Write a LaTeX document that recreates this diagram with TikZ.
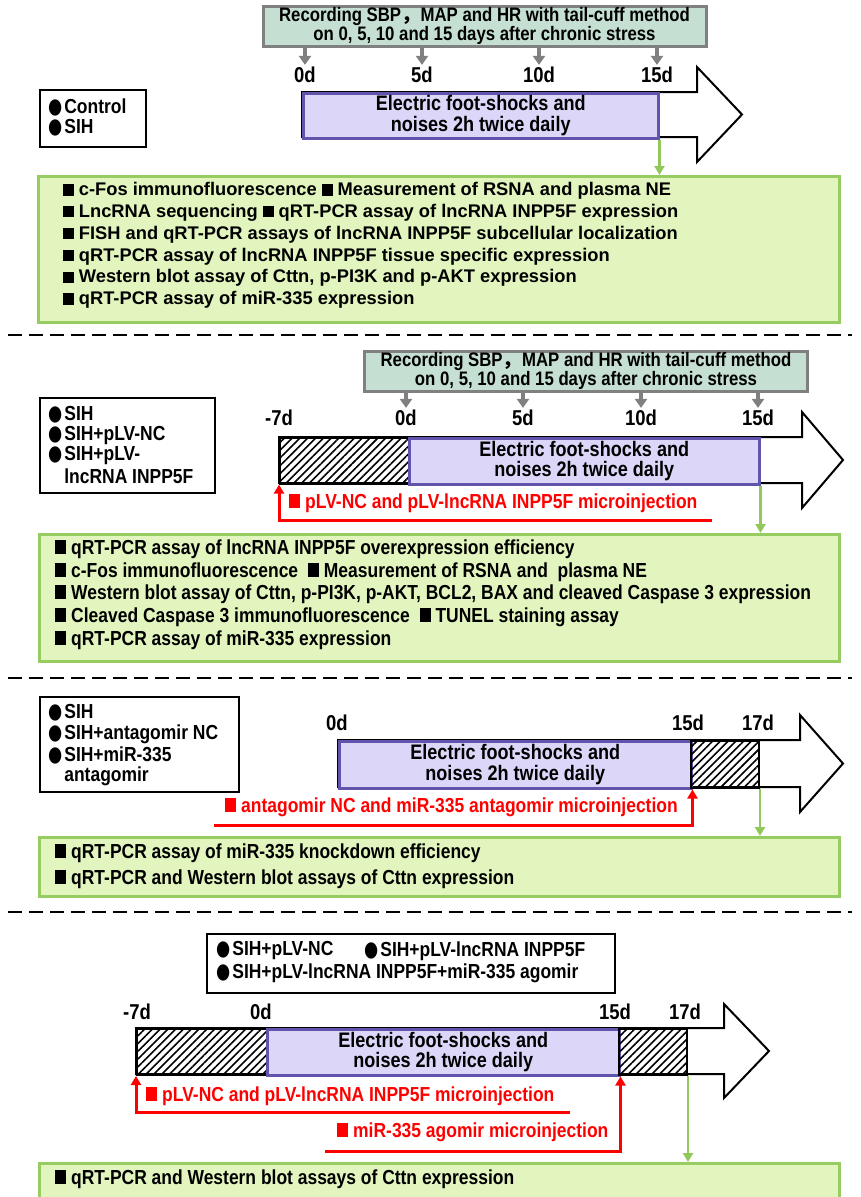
\documentclass[tikz,border=0pt]{standalone}
\usepackage{fontspec}
\setmainfont{Liberation Sans}
\newfontfamily\nf{Liberation Sans}[FakeStretch=0.86]
\newfontfamily\sym{DejaVu Sans}
\newfontfamily\cjk{Noto Sans CJK SC}
\usetikzlibrary{arrows.meta,patterns.meta}
\definecolor{tbfill}{RGB}{197,224,210}
\definecolor{tbedge}{RGB}{128,128,128}
\definecolor{purpfill}{RGB}{220,214,248}
\definecolor{purpedge}{RGB}{96,84,172}
\definecolor{gfill}{RGB}{226,245,190}
\definecolor{gedge}{RGB}{150,204,96}
\definecolor{garrow}{RGB}{146,200,90}
\definecolor{redc}{RGB}{255,0,0}
\newcommand\sqA{\rule{0.58em}{0.62em}}
\newcommand\sqB{\rule{0.55em}{0.7em}}
\newcommand\dotB{\scalebox{0.8}[1.05]{\sym ●}\hspace{2pt}}
\tikzset{
  topbox/.style={draw=tbedge, fill=tbfill, line width=3pt, minimum width=443pt, minimum height=40pt,
    inner sep=0pt, align=center, font=\nf\bfseries\fontsize{19.5}{18}\selectfont},
  tick/.style={inner sep=0pt, font=\nf\bfseries\fontsize{21.5}{20}\selectfont},
  grayarrow/.style={draw=tbedge, line width=3.2pt, shorten >=2pt, -{Triangle[width=12pt,length=9pt]}},
  bigarrow/.style={draw=black, fill=white, line width=2pt, line join=miter},
  purplebox/.style={draw=purpedge, fill=purpfill, line width=2.5pt, inner sep=0pt, anchor=north west,
    align=center, font=\nf\bfseries\fontsize{21}{20.5}\selectfont},
  hatchbox/.style={draw=black, line width=2pt, inner sep=0pt, anchor=north west,
    pattern={Lines[angle=45,distance=5.5pt,line width=1.6pt]}},
  greenbox/.style={draw=gedge, fill=gfill, line width=3pt, inner sep=0pt, anchor=north west},
  greenarrow/.style={draw=garrow, line width=2.6pt, -{Triangle[width=10pt,length=9pt]}},
  redarrow/.style={draw=redc, line width=3pt, -{Triangle[width=10pt,length=9pt]}},
  legendbox/.style={draw=black, fill=white, line width=1.8pt, inner sep=0pt, anchor=north west},
  gAtext/.style={inner sep=0pt, anchor=west, font=\bfseries\fontsize{18.3}{20}\selectfont},
  ntext/.style={inner sep=0pt, anchor=west, font=\nf\bfseries\fontsize{20.3}{20}\selectfont},
  redtext/.style={ntext, text=redc},
  sepline/.style={line width=2.5pt, dash pattern=on 14pt off 7pt}
}
\begin{document}
\begin{tikzpicture}[x=1pt,y=-1pt]
\useasboundingbox (0,0) rectangle (860,1197);

% ================= Panel 1 =================
\node[topbox] (tb1) at (484.5,26) {Recording SBP{\cjk ，}MAP and HR with tail-cuff method\\on 0, 5, 10 and 15 days after chronic stress};
\node[tick] (a0) at (305,75) {0d};
\node[tick] (a5) at (422,75) {5d};
\node[tick] (a10) at (539,75) {10d};
\node[tick] (a15) at (657,75) {15d};
\foreach \t in {a0,a5,a10,a15} \draw[grayarrow] (tb1.south -| \t) -- (\t.north);
\node[legendbox, minimum width=106pt, minimum height=57pt] (L1) at (39,89) {};
\node[ntext] (L1a) at (48,107) {\dotB Control};
\node[ntext] (L1b) at (48,128) {\dotB SIH};
\draw[bigarrow] (302,92) -- (697,92) -- (697,67) -- (742,114.5) -- (697,162) -- (697,137) -- (302,137) -- cycle;
\node[purplebox, minimum width=355pt, minimum height=45pt] (p1) at (302,92) {Electric foot-shocks and\\noises 2h twice daily};
\node[greenbox, minimum width=801pt, minimum height=146pt] (g1) at (37,175) {};
\draw[greenarrow] (p1.south east) -- (p1.south east |- g1.north);
\node[gAtext] (g1a) at (63,191) {\sqA\ c-Fos immunofluorescence \sqA\ Measurement of RSNA and plasma NE};
\node[gAtext] (g1b) at (63,212.8) {\sqA\ LncRNA sequencing \sqA\ qRT-PCR assay of lncRNA INPP5F expression};
\node[gAtext] (g1c) at (63,234.6) {\sqA\ FISH and qRT-PCR assays of lncRNA INPP5F subcellular localization};
\node[gAtext] (g1d) at (63,256.4) {\sqA\ qRT-PCR assay of lncRNA INPP5F tissue specific expression};
\node[gAtext] (g1e) at (63,278.2) {\sqA\ Western blot assay of Cttn, p-PI3K and p-AKT expression};
\node[gAtext] (g1f) at (63,300) {\sqA\ qRT-PCR assay of miR-335 expression};

\draw[sepline] (8,335) -- (852,335);

% ================= Panel 2 =================
\node[topbox] (tb2) at (586,371) {Recording SBP{\cjk ，}MAP and HR with tail-cuff method\\on 0, 5, 10 and 15 days after chronic stress};
\node[tick] (b7) at (279,418) {-7d};
\node[tick] (b0) at (406,418) {0d};
\node[tick] (b5) at (523,418) {5d};
\node[tick] (b10) at (641,418) {10d};
\node[tick] (b15) at (758,418) {15d};
\foreach \t in {b0,b5,b10,b15} \draw[grayarrow] (tb2.south -| \t) -- (\t.north);
\node[legendbox, minimum width=175pt, minimum height=95pt] (L2) at (39,397) {};
\node[ntext] (L2a) at (48,415) {\dotB SIH};
\node[ntext] (L2b) at (48,436) {\dotB SIH+pLV-NC};
\node[ntext] (L2c) at (48,456) {\dotB SIH+pLV-};
\node[ntext] (L2d) at (48,477) {\phantom{\dotB}lncRNA INPP5F};
\draw[bigarrow] (279,437) -- (802,437) -- (802,412) -- (843,460) -- (802,508) -- (802,483) -- (279,483) -- cycle;
\node[hatchbox, minimum width=129pt, minimum height=46pt] (h2) at (279,437) {};
\node[purplebox, minimum width=350pt, minimum height=46pt] (p2) at (408,437) {Electric foot-shocks and\\noises 2h twice daily};
\coordinate (r2) at (712,520);
\draw[redarrow] (r2) -| (h2.south west);
\node[redtext] (r2t) at (289,503) {\sqB\ pLV-NC and pLV-lncRNA INPP5F microinjection};
\node[greenbox, minimum width=800pt, minimum height=127pt] (g2) at (38,533) {};
\draw[greenarrow] (p2.south east) -- (p2.south east |- g2.north);
\node[ntext] (g2a) at (55,549) {\sqB\ qRT-PCR assay of lncRNA INPP5F overexpression efficiency};
\node[ntext] (g2b) at (55,572) {\sqB\ c-Fos immunofluorescence \ \sqB\ Measurement of RSNA and \ plasma NE};
\node[ntext] (g2c) at (55,594) {\sqB\ Western blot assay of Cttn, p-PI3K, p-AKT, BCL2, BAX and cleaved Caspase 3 expression};
\node[ntext] (g2d) at (55,617) {\sqB\ Cleaved Caspase 3 immunofluorescence \ \sqB\ TUNEL staining assay};
\node[ntext] (g2e) at (55,640) {\sqB\ qRT-PCR assay of miR-335 expression};

\draw[sepline] (8,678) -- (852,678);

% ================= Panel 3 =================
\node[legendbox, minimum width=199pt, minimum height=95pt] (L3) at (39,696) {};
\node[ntext] (L3a) at (48,713) {\dotB SIH};
\node[ntext] (L3b) at (48,734) {\dotB SIH+antagomir NC};
\node[ntext] (L3c) at (48,755) {\dotB SIH+miR-335};
\node[ntext] (L3d) at (48,776) {\phantom{\dotB}antagomir};
\node[tick] (c0) at (337,723) {0d};
\node[tick] (c15) at (688,723) {15d};
\node[tick] (c17) at (758,723) {17d};
\draw[bigarrow] (338,740) -- (800,740) -- (800,715) -- (843,763.5) -- (800,812) -- (800,787) -- (338,787) -- cycle;
\node[purplebox, minimum width=352pt, minimum height=47pt] (p3) at (338,740) {Electric foot-shocks and\\noises 2h twice daily};
\node[hatchbox, minimum width=68pt, minimum height=47pt] (h3) at (690,740) {};
\coordinate (r3) at (214,825);
\draw[redarrow] (r3) -| (p3.south east);
\node[redtext] (r3t) at (225,807) {\sqB\ antagomir NC and miR-335 antagomir microinjection};
\node[greenbox, minimum width=800pt, minimum height=59pt] (g3) at (38,836) {};
\draw[greenarrow] (h3.south east) -- (h3.south east |- g3.north);
\node[ntext] (g3a) at (55,853) {\sqB\ qRT-PCR assay of miR-335 knockdown efficiency};
\node[ntext] (g3b) at (55,879) {\sqB\ qRT-PCR and Western blot assays of Cttn expression};

\draw[sepline] (8,912) -- (852,912);

% ================= Panel 4 =================
\node[legendbox, minimum width=408pt, minimum height=59pt] (L4) at (206,933) {};
\node[ntext] (L4a) at (216,951) {\dotB SIH+pLV-NC};
\node[ntext] (L4b) at (364,951) {\dotB SIH+pLV-lncRNA INPP5F};
\node[ntext] (L4c) at (216,973) {\dotB SIH+pLV-lncRNA INPP5F+miR-335 agomir};
\node[tick] (d7) at (137,1012) {-7d};
\node[tick] (d0) at (261,1012) {0d};
\node[tick] (d15) at (615,1012) {15d};
\node[tick] (d17) at (685,1012) {17d};
\draw[bigarrow] (136,1028) -- (724,1028) -- (724,1004) -- (769,1051) -- (724,1098) -- (724,1074) -- (136,1074) -- cycle;
\node[hatchbox, minimum width=130pt, minimum height=46pt] (h4a) at (136,1028) {};
\node[purplebox, minimum width=352pt, minimum height=46pt] (p4) at (266,1028) {Electric foot-shocks and\\noises 2h twice daily};
\node[hatchbox, minimum width=68pt, minimum height=46pt] (h4b) at (618,1028) {};
\coordinate (r4a) at (570,1112);
\draw[redarrow] (r4a) -| (h4a.south west);
\node[redtext] (r4at) at (146,1096) {\sqB\ pLV-NC and pLV-lncRNA INPP5F microinjection};
\coordinate (r4b) at (325,1151);
\draw[redarrow] (r4b) -| (p4.south east);
\node[redtext] (r4bt) at (337,1132) {\sqB\ miR-335 agomir microinjection};
\node[greenbox, minimum width=800pt, minimum height=60pt] (g4) at (38,1162) {};
\draw[greenarrow] (h4b.south east) -- (h4b.south east |- g4.north);
\node[ntext] (g4a) at (55,1179) {\sqB\ qRT-PCR and Western blot assays of Cttn expression};
\end{tikzpicture}
\end{document}
